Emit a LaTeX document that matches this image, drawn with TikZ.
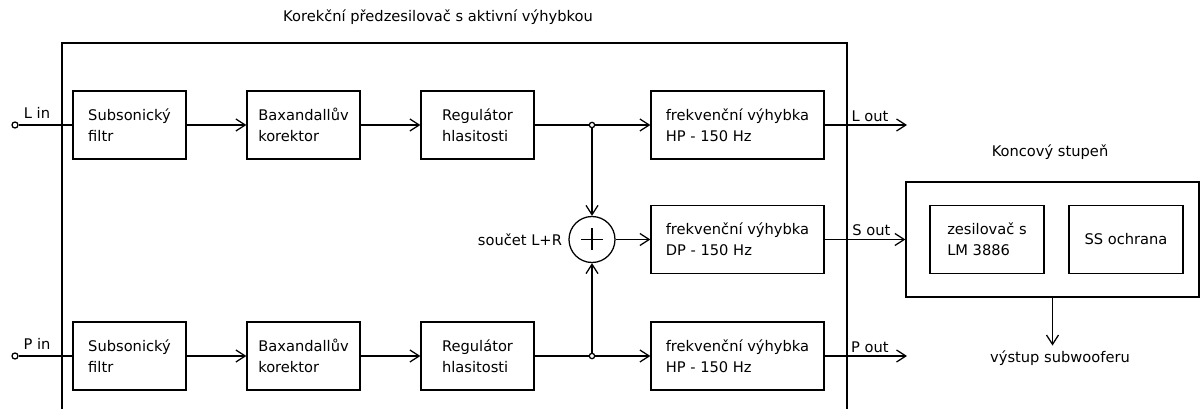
\documentclass[tikz,border=0pt]{standalone}
\usepackage{fontspec}
\setmainfont{DejaVu Sans}
\usetikzlibrary{calc, positioning}
\usetikzlibrary{arrows.meta}

\begin{document}
\begin{tikzpicture}[x=0.75pt, y=-0.75pt, line width=0.95pt,
  font=\fontsize{11}{16}\selectfont,
  block/.style={draw, align=left, minimum height=68*0.75pt, inner sep=0pt},
  arr/.style={-{Straight Barb[length=7pt,width=9pt]}},
  term/.style={draw, circle, fill=white, inner sep=0pt, minimum size=4.5pt},
  jun/.style={draw, circle, fill=white, inner sep=0pt, minimum size=4pt}]
\useasboundingbox (0,0) rectangle (1201,409);

\def\bw{113*0.75pt}
\def\fw{173*0.75pt}

\draw[line width=1.1pt] (62,409) -- (62,43) -- (847,43) -- (847,409);
\node (title) at (438,17) {Korekční předzesilovač s aktivní výhybkou};

\node[draw, circle, minimum size=46*0.75pt, inner sep=0pt] (sum) at (592,239.5) {};
\draw ($(sum.center)+(-11,0)$) -- ($(sum.center)+(11,0)$);
\draw ($(sum.center)+(0,-11)$) -- ($(sum.center)+(0,11)$);
\node[left=1pt of sum] (sumlbl) {součet L+R};

\foreach \r/\yy in {L/125, P/356} {
  \node[term] (in\r) at (15,\yy) {};
  \node (inlbl\r) at (37,\yy-12) {\r{} in};
  \node[block, minimum width=\bw] (sf\r) at (129.5,\yy) {Subsonický\\filtr};
  \node[block, minimum width=\bw] (bx\r) at (303.5,\yy) {Baxandallův\\korektor};
  \node[block, minimum width=\bw] (rg\r) at (477.5,\yy) {Regulátor\\hlasitosti};
  \node[jun] (j\r) at (592,\yy) {};
  \node[block, minimum width=\fw] (hp\r) at (737.5,\yy) {frekvenční výhybka\\HP - 150 Hz};
  \coordinate (out\r) at (907,\yy);
  \draw (in\r) -- (sf\r);
  \draw[arr] (sf\r) -- (bx\r);
  \draw[arr] (bx\r) -- (rg\r);
  \draw (rg\r) -- (j\r);
  \draw[arr] (j\r) -- (hp\r);
  \draw[arr] (hp\r) -- (out\r) node[above=-1pt, pos=0.55] (outlbl\r) {\r{} out};
  \draw[arr] (j\r) -- (sum);
}

\node[block, minimum width=\fw] (dp) at (737.5,239.5) {frekvenční výhybka\\DP - 150 Hz};
\draw[arr] (sum) -- (dp);

\node[draw, minimum width=293*0.75pt, minimum height=115*0.75pt] (amp) at (1052.5,239.5) {};
\node (amplbl) at (1050,152) {Koncový stupeň};
\node[block, minimum width=114*0.75pt] (zes) at (987,239.5) {zesilovač s\\LM 3886};
\node[block, minimum width=114*0.75pt] (ss) at (1126,239.5) {SS ochrana};
\draw[arr] (dp) -- (amp) node[above=-1pt, pos=0.58] (outlblS) {S out};

\node (sub) at (1060,358) {výstup subwooferu};
\draw[arr] (amp.south) -- (amp.south |- sub.north);
\end{tikzpicture}
\end{document}
